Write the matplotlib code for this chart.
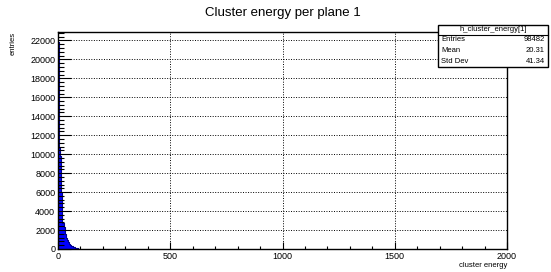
import numpy as np
import matplotlib
matplotlib.use("Agg")
import matplotlib.pyplot as plt
from matplotlib.ticker import MultipleLocator
from matplotlib.patches import Rectangle
from matplotlib.lines import Line2D

plt.rcParams["font.family"] = ["Liberation Sans", "DejaVu Sans"]

# istogramma: bin da 5 unita', solo i primi bin hanno contenuto
bin_width = 5
bin_counts = [21800, 10700, 9800, 6000, 2700, 2300, 1600, 1200, 900, 700,
              500, 400, 300, 220, 160, 120, 90, 60, 40, 25]
hist_title = "Cluster energy per plane 1"
stats_name = "h_cluster_energy[1]"
stats_labels = ["Entries", "Mean", "Std Dev"]
stats_values = ["98482", "20.31", "41.34"]

W, H = 551, 272
fig = plt.figure(figsize=(W / 100, H / 100), dpi=100)
ax = fig.add_axes([58 / W, 1 - 249 / H, (507 - 58) / W, (249 - 32) / H])

edges = np.arange(len(bin_counts) + 1) * bin_width
ax.stairs(bin_counts, edges, fill=True, facecolor="#0000ff", edgecolor="#000080", linewidth=0.6)
ax.stairs(bin_counts, edges, fill=False, color="#000090", linewidth=0.8)

ax.set_xlim(0, 2000)
ax.set_ylim(0, 22890)
ax.xaxis.set_major_locator(MultipleLocator(500))
ax.xaxis.set_minor_locator(MultipleLocator(100))
ax.yaxis.set_major_locator(MultipleLocator(2000))
ax.yaxis.set_minor_locator(MultipleLocator(400))
ax.tick_params(axis="both", which="both", direction="in", labelsize=6.5, width=0.8, pad=2)
ax.tick_params(axis="y", which="major", length=9)
ax.tick_params(axis="y", which="minor", length=4.5)
ax.tick_params(axis="x", which="major", length=5)
ax.tick_params(axis="x", which="minor", length=2.5)
ax.grid(True, which="major", linestyle=(0, (1, 1.6)), color="black", linewidth=0.7)
ax.set_axisbelow(False)
for s in ax.spines.values():
    s.set_linewidth(1.0)

ax.set_xlabel("cluster energy", loc="right", fontsize=5.5, labelpad=1)
ax.set_ylabel("entries", loc="top", fontsize=5.5, labelpad=10)
fig.text(283 / W, 1 - 13 / H, hist_title, ha="center", va="center", fontsize=9.5)

# box delle statistiche (stile ROOT)
bx0, bx1, by0, by1, sep = 438, 548, 25, 67, 34.5
fig.add_artist(Rectangle((bx0 / W, 1 - by1 / H), (bx1 - bx0) / W, (by1 - by0) / H,
                         transform=fig.transFigure, facecolor="white", edgecolor="black",
                         linewidth=1.0, zorder=5))
fig.add_artist(Line2D([bx0 / W, bx1 / W], [1 - sep / H, 1 - sep / H],
                      transform=fig.transFigure, color="black", linewidth=0.8, zorder=6))
fig.text((bx0 + bx1) / 2 / W, 1 - (by0 + sep) / 2 / H, stats_name, ha="center", va="center",
         fontsize=5.5, zorder=7)
row_h = (by1 - sep) / len(stats_labels)
for i, (lab, val) in enumerate(zip(stats_labels, stats_values)):
    yc = 1 - (sep + row_h * (i + 0.5)) / H
    fig.text((bx0 + 3) / W, yc, lab, ha="left", va="center", fontsize=5.5, zorder=7)
    fig.text((bx1 - 3) / W, yc, val, ha="right", va="center", fontsize=5.5, zorder=7)

fig.savefig("out.png", dpi=100)
